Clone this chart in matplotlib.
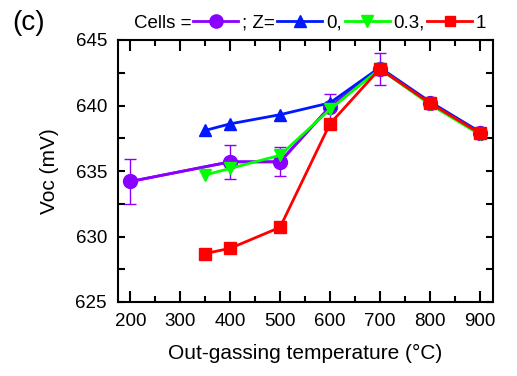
import numpy as np
import matplotlib.pyplot as plt
from matplotlib.ticker import MultipleLocator

plt.rcParams['font.family'] = ['Liberation Sans', 'DejaVu Sans']

# Voc vs out-gassing temperature
cells_t = [200, 400, 500, 600, 700, 800, 900]
cells_voc = [634.2, 635.7, 635.7, 639.9, 642.8, 640.2, 637.9]
cells_err = [1.75, 1.3, 1.1, 1.0, 1.2, 0.0, 0.0]

z_t = [350, 400, 500, 600, 700, 800, 900]
z0_voc = [638.1, 638.6, 639.3, 640.2, 642.9, 640.3, 638.0]
z03_voc = [634.7, 635.2, 636.2, 639.7, 642.8, 640.1, 637.8]
z1_voc = [628.7, 629.1, 630.7, 638.6, 642.8, 640.2, 637.9]

purple = "#8a00ff"
blue = "#0018ff"
green = "#00ff00"
red = "#ff0000"

fig = plt.figure(figsize=(5.17, 3.76), dpi=100)
ax = fig.add_axes([118 / 517, 1 - 302 / 376, 375 / 517, 262 / 376])

ax.errorbar(cells_t, cells_voc, yerr=cells_err, color=purple, ecolor=purple,
            elinewidth=1, capsize=4, capthick=1, lw=2, zorder=2)
hc, = ax.plot(cells_t, cells_voc, "-o", color=purple, lw=2, ms=10, zorder=2)
hb, = ax.plot(z_t, z0_voc, "-^", color=blue, lw=2, ms=9, zorder=3)
hg, = ax.plot(z_t, z03_voc, "-v", color=green, lw=2, ms=9, zorder=4)
hr, = ax.plot(z_t, z1_voc, "-s", color=red, lw=2, ms=8, zorder=5)

ax.set_xlim(175, 927)
ax.set_ylim(625, 645)
ax.xaxis.set_major_locator(MultipleLocator(100))
ax.xaxis.set_minor_locator(MultipleLocator(50))
ax.yaxis.set_major_locator(MultipleLocator(5))
ax.yaxis.set_minor_locator(MultipleLocator(2.5))
ax.tick_params(which="both", direction="in", top=True, right=True, width=1.5,
               labelsize=13.5)
ax.tick_params(axis="x", which="major", length=8, pad=8)
ax.tick_params(axis="x", which="minor", length=4)
ax.tick_params(axis="y", which="both", length=5, pad=8)
for s in ax.spines.values():
    s.set_linewidth(1.5)

ax.set_xlabel("Out-gassing temperature (°C)", fontsize=15, labelpad=10)
ax.set_ylabel("Voc (mV)", fontsize=15, labelpad=12)

fig.text(12 / 517, 1 - 23 / 376, "(c)", fontsize=20, va="center", ha="left")
fig.text(191 / 517, 1 - 23 / 376, "Cells =", fontsize=13.5, va="center", ha="right")
fig.legend([hc, hb, hg, hr], ["; Z=", "0,", "0.3,", "1"], ncol=4,
           loc="center left", bbox_to_anchor=(193 / 517, 1 - 23 / 376),
           frameon=False, fontsize=13.5, handlelength=2.4, handletextpad=0.2,
           columnspacing=0.15, borderaxespad=0, borderpad=0, markerscale=0.95)

fig.savefig("out.png", dpi=100)
